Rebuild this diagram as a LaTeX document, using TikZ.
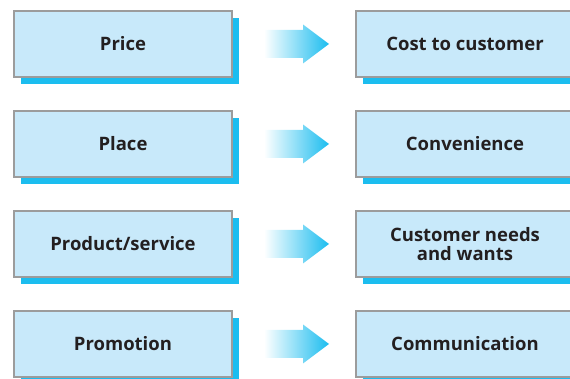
\documentclass[tikz,border=0pt]{standalone}
\usepackage{fontspec}
\setmainfont{Open Sans}
\usetikzlibrary{shadows,calc}
\definecolor{boxfill}{HTML}{C8E9FA}
\definecolor{boxline}{HTML}{9C9C9C}
\definecolor{accent}{HTML}{1BBDEF}
\definecolor{ink}{HTML}{231F20}
\begin{document}
\begin{tikzpicture}[x=1pt,y=1pt,
  card/.style={draw=boxline, line width=1.4pt, fill=boxfill,
    minimum width=218pt, minimum height=66pt, inner sep=0pt,
    align=center, text=ink, font=\bfseries\fontsize{18.5}{19.5}\selectfont,
    drop shadow={shadow xshift=7pt, shadow yshift=-7pt, fill=accent, opacity=1}},
  flow/.style={left color=white, right color=accent}]
\useasboundingbox (0,0) rectangle (570,379);
\clip (0,0) rectangle (570,379);

% four pairs of cards: the marketing mix on the left, the customer view on the right
\foreach \i/\l/\r [count=\k] in {335/Price/Cost to customer,
    235/Place/Convenience,
    135/Product\slash service/{Customer needs\\and wants},
    35/Promotion/Communication}{
  \node[card] (l\k) at (123,\i) {\l};
  \node[card] (r\k) at (465,\i) {\r};
  % shaded block arrow between the cards
  \coordinate (a\k) at ($(l\k.east)!0.5!(r\k.west)+(2.5,0)$);
  \shade[flow] ($(a\k)+(-32.5,-14)$) -- ($(a\k)+(6.5,-14)$) -- ($(a\k)+(6.5,-19.5)$)
    -- ($(a\k)+(32.5,0)$) -- ($(a\k)+(6.5,19.5)$) -- ($(a\k)+(6.5,14)$)
    -- ($(a\k)+(-32.5,14)$) -- cycle;
}
\end{tikzpicture}
\end{document}
